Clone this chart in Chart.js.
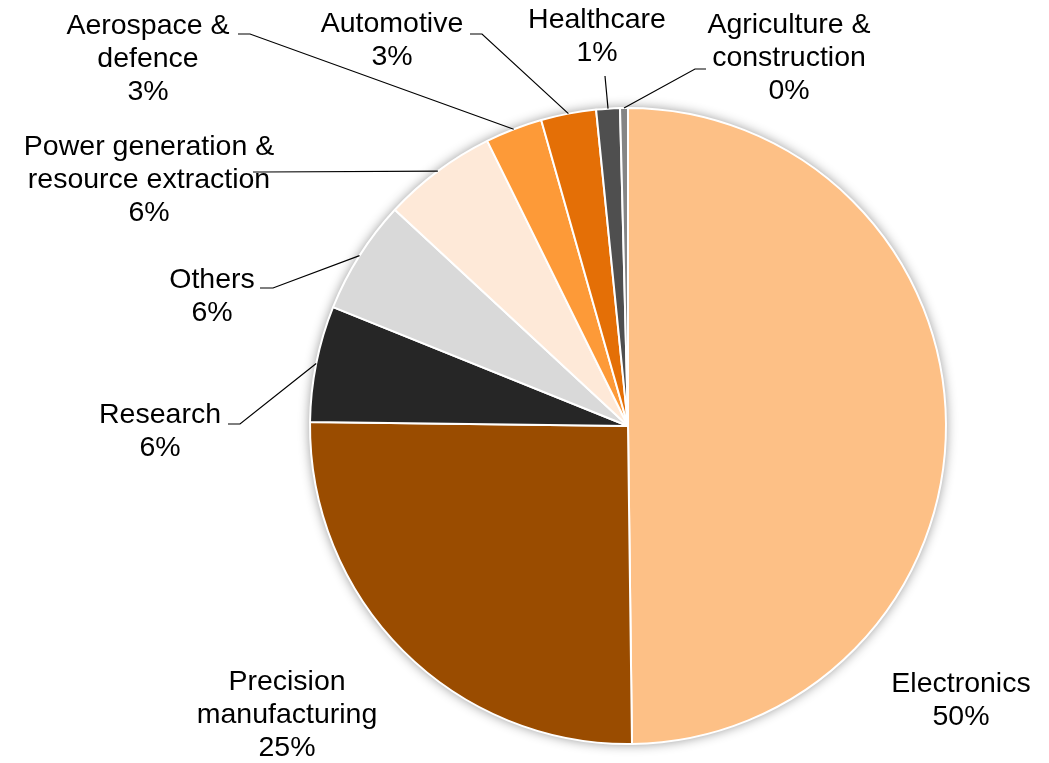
<!DOCTYPE html>
<html>
<head>
<meta charset="utf-8">
<script src="https://cdn.jsdelivr.net/npm/chart.js@4.4.1/dist/chart.umd.min.js"></script>
<style>
  html, body { margin: 0; padding: 0; background: #fff; }
  #wrap { width: 1049px; height: 763px; position: relative; }
</style>
</head>
<body>
<div id="wrap"><canvas id="pieChart" width="1049" height="763"></canvas></div>
<script>
// sectors, clockwise from 12 o'clock
const sectors = ['Electronics', 'Precision manufacturing', 'Research', 'Others',
  'Power generation & resource extraction', 'Aerospace & defence', 'Automotive',
  'Healthcare', 'Agriculture & construction'];
const shares = [49.8, 25.4, 5.9, 5.8, 5.8, 2.9, 2.8, 1.2, 0.4];
const labelLines = [
  ['Electronics'],
  ['Precision', 'manufacturing'],
  ['Research'],
  ['Others'],
  ['Power generation &', 'resource extraction'],
  ['Aerospace &', 'defence'],
  ['Automotive'],
  ['Healthcare'],
  ['Agriculture &', 'construction']
];
const colors = ['#FDC086', '#9A4C00', '#262626', '#D9D9D9', '#FEE9D8',
  '#FD9A38', '#E46F06', '#4F4F4F', '#858585'];

// label placement: x = text centre, y = centre of first line,
// lead = [start x, start y, elbow x] of the leader line (null = none)
const labelLayout = [
  { x: 961, y: 684, lead: null },
  { x: 287, y: 682, lead: null },
  { x: 160, y: 415, lead: [228, 424, 240] },
  { x: 212, y: 280, lead: [260, 288, 273] },
  { x: 149, y: 147, lead: [253, 172, 262] },
  { x: 148, y: 26, lead: [238, 34, 250] },
  { x: 392, y: 24, lead: [470, 34, 482] },
  { x: 597, y: 20, lead: [605, 76, 605] },
  { x: 789, y: 25, lead: [706, 69, 695] }
];

const FONT = '28.5px "Liberation Sans", Arial, sans-serif';
const LINE_H = 33;

const shadowPlugin = {
  id: 'pieShadow',
  beforeDatasetsDraw(chart) {
    const arc = chart.getDatasetMeta(0).data[0];
    if (!arc) return;
    const ctx = chart.ctx;
    ctx.save();
    ctx.shadowColor = 'rgba(0,0,0,0.45)';
    ctx.shadowBlur = 12;
    ctx.fillStyle = '#fff';
    ctx.beginPath();
    ctx.arc(arc.x, arc.y, arc.outerRadius, 0, Math.PI * 2);
    ctx.fill();
    ctx.restore();
  }
};

const labelPlugin = {
  id: 'pieLabels',
  afterDatasetsDraw(chart) {
    const ctx = chart.ctx;
    const arcs = chart.getDatasetMeta(0).data;
    ctx.save();
    ctx.font = FONT;
    ctx.fillStyle = '#000';
    ctx.textAlign = 'center';
    ctx.textBaseline = 'middle';
    arcs.forEach((arc, i) => {
      const lay = labelLayout[i];
      const lines = labelLines[i].concat([Math.round(shares[i]) + '%']);
      lines.forEach((t, k) => ctx.fillText(t, lay.x, lay.y + k * LINE_H));
      if (lay.lead) {
        const mid = (arc.startAngle + arc.endAngle) / 2;
        const ax = arc.x + Math.cos(mid) * arc.outerRadius;
        const ay = arc.y + Math.sin(mid) * arc.outerRadius;
        ctx.strokeStyle = '#000';
        ctx.lineWidth = 1.2;
        ctx.beginPath();
        ctx.moveTo(lay.lead[0], lay.lead[1]);
        ctx.lineTo(lay.lead[2], lay.lead[1]);
        ctx.lineTo(ax, ay);
        ctx.stroke();
      }
    });
    ctx.restore();
  }
};

const pieCtx = document.getElementById('pieChart').getContext('2d');
const pieChart = new Chart(pieCtx, {
  type: 'pie',
  data: {
    labels: sectors,
    datasets: [{
      data: shares,
      backgroundColor: colors,
      borderColor: '#fff',
      borderWidth: 2
    }]
  },
  options: {
    responsive: false,
    animation: false,
    layout: { padding: { left: 309, right: 102, top: 107, bottom: 18 } },
    plugins: {
      legend: { display: false },
      tooltip: { enabled: false }
    }
  },
  plugins: [shadowPlugin, labelPlugin]
});
</script>
</body>
</html>
